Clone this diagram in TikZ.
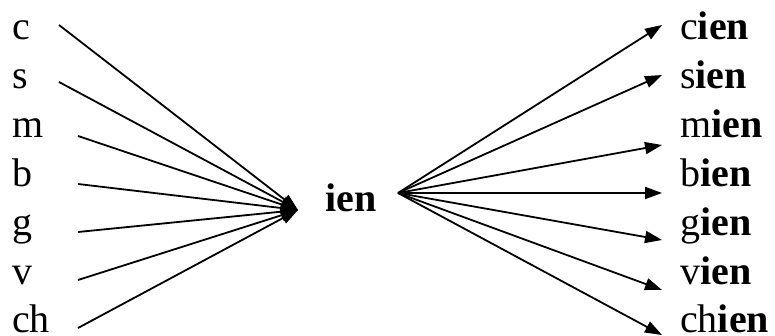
\documentclass[tikz,border=0pt]{standalone}
\usepackage{fontspec}
\setmainfont{Liberation Serif}
\usetikzlibrary{arrows.meta}
\newcommand{\StemFont}{\fontsize{40}{40}\selectfont}
\tikzset{
  stem label/.style={font=\StemFont, inner sep=0pt, anchor=base west},
  stem arrow/.style={
    -{Triangle[length=17pt,width=12pt]},
    line width=1.8pt,
    draw=black
  }
}

\begin{document}
\begin{tikzpicture}[x=1pt,y=-1pt]
\useasboundingbox (0,0) rectangle (775,336);

% hub and centre word
\coordinate (hub) at (298,210);
\coordinate (fan) at (398,193);
\node[stem label] (ien) at (325,212) {\textbf{ien}};

% onsets on the left, words on the right
\foreach \name/\sx/\sy/\ty [count=\i from 0] in
  {c/59/25/25, s/59/82/75, m/78/136/145, b/78/184/193,
   g/78/232/240, v/78/280/290, ch/78/328/335}{
  \node[stem label] (\name) at (12,{40+48.8*\i}) {\name};
  \node[stem label] (\name ien) at (680,{40+48.8*\i}) {\name\textbf{ien}};
  \coordinate (\name-start) at (\sx,\sy);
  \coordinate (\name-tip) at (662,\ty);
  \draw[stem arrow] (\name-start) -- (hub);
  \draw[stem arrow] (fan) -- (\name-tip);
}
\end{tikzpicture}
\end{document}
